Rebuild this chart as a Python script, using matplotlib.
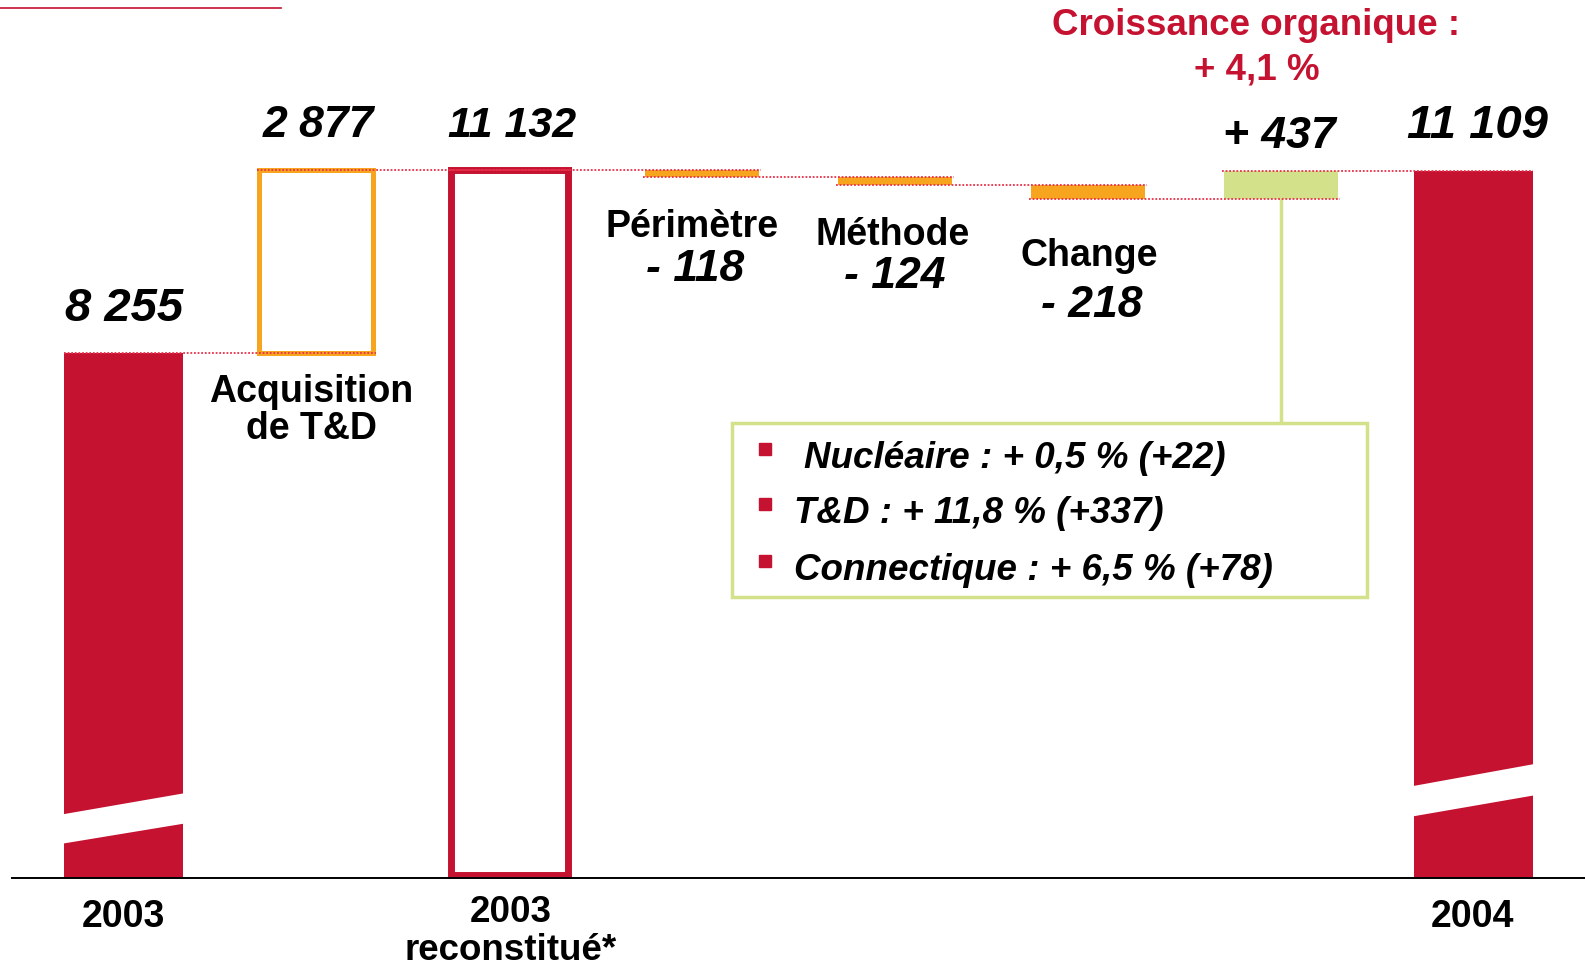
import matplotlib
matplotlib.use("Agg")
import matplotlib.pyplot as plt
from matplotlib.patches import Polygon, Rectangle

plt.rcParams['font.family'] = ['Liberation Sans', 'DejaVu Sans']

# data
categories = ["2003", "Acquisition\nde T&D", "2003\nreconstitué*", "Périmètre",
              "Méthode", "Change", "Croissance organique", "2004"]
values = [8255, 2877, 11132, -118, -124, -218, 437, 11109]
is_total = [True, False, True, False, False, False, False, True]
legend_lines = ["Nucléaire : + 0,5 % (+22)", "T&D : + 11,8 % (+337)",
                "Connectique : + 6,5 % (+78)"]
growth_title = ["Croissance organique :", "+ 4,1 %"]

RED = "#C41230"
ORANGE = "#F7A51E"
GREEN = "#D3E28A"
DOT = "#E8304A"

# layout grid (in units of the 1568x957 layout)
W, H = 1568, 957
BASE_PX = 869
STEP_PX = (1458 - 122) / 7
K = (BASE_PX - 168) / 11132.0
TXT_DY = 3.5


def X(px):
    return (px - 122) / STEP_PX


def Y(py):
    return (BASE_PX - py) / K


def TY(py):
    # text anchor, nudged down a little to match the reference baseline
    return Y(py + TXT_DY)


def fmt(v, sign=False):
    s = f"{abs(v):,}".replace(",", " ")
    if sign:
        return ("+ " if v > 0 else "- ") + s
    return s


fig = plt.figure(figsize=(15.85, 9.67), dpi=100)
ax = fig.add_axes([0, 0, 1, 1])
ax.set_xlim(X(0), X(W))
ax.set_ylim(Y(H), Y(0))
ax.axis("off")

# waterfall bottoms
bottoms = []
level = 0
for v, tot in zip(values, is_total):
    if tot:
        bottoms.append(0)
        level = v
    else:
        bottoms.append(level if v > 0 else level + v)
        level += v
heights = [abs(v) for v in values]

width = 0.615
# bars
ax.bar(0, heights[0], bottom=bottoms[0], width=width, color=RED, zorder=2)
ax.bar(7, heights[7], bottom=bottoms[7], width=width, color=RED, zorder=2)
ax.bar(1, heights[1], bottom=bottoms[1], width=0.59, facecolor="none",
       edgecolor=ORANGE, linewidth=3.6, zorder=2)
ax.bar(2, heights[2] - 45, bottom=bottoms[2] + 45, width=0.605, facecolor="none",
       edgecolor=RED, linewidth=5, zorder=2)
for i in (3, 4, 5):
    ax.bar(i, heights[i], bottom=bottoms[i], width=0.59, color=ORANGE, zorder=2)
ax.bar(6, heights[6], bottom=bottoms[6], width=0.59, color=GREEN, zorder=2)

# dotted connectors
level = values[0]
for i in range(1, len(values)):
    ax.plot([i - 1 - width / 2, i + width / 2], [level, level], color=DOT,
            lw=1.3, ls=(0, (1, 1)), zorder=3)
    level = values[i] if is_total[i] else level + values[i]

# axis break stripes
for i, (lt, lb, rt, rb) in [(0, (806, 835, 785, 815)), (7, (778, 808, 756, 787))]:
    xl, xr = i - width / 2 - 0.01, i + width / 2 + 0.01
    ax.add_patch(Polygon([(xl, Y(lt)), (xr, Y(rt)), (xr, Y(rb)), (xl, Y(lb))],
                         closed=True, facecolor="white", edgecolor="none", zorder=4))

# baseline
ax.axhline(0, xmin=12 / W, xmax=1568 / W, color="black", lw=1.4, zorder=5)
# decorative top-left line
ax.plot([X(0), X(278)], [Y(8), Y(8)], color=RED, lw=1.2)

bi = dict(fontweight="bold", style="italic", ha="center", va="center", color="black")
b = dict(fontweight="bold", ha="center", va="center", color="black")

# value labels
ax.text(X(123), TY(302), fmt(values[0]), fontsize=34, **bi)
ax.text(X(315), TY(121), fmt(values[1]), fontsize=32, **bi)
ax.text(X(507), TY(121), fmt(values[2]), fontsize=31, **bi)
ax.text(X(1462), TY(121), fmt(values[7]), fontsize=34, **bi)
ax.text(X(1266), TY(132), fmt(values[6], sign=True), fontsize=32, **bi)

# category labels for deltas
delta_pos = {3: (685, 221, 688, 263), 4: (883, 229, 885, 270), 5: (1078, 250, 1080, 299)}
for i, (cx, ty, vx, vy) in delta_pos.items():
    ax.text(X(cx), TY(ty), categories[i], fontsize=27, **b)
    ax.text(X(vx), TY(vy), fmt(values[i], sign=True), fontsize=32, **bi)

for line, py in zip(categories[1].split("\n"), [384, 421]):
    ax.text(X(308), TY(py), line, fontsize=27, **b)

# x labels
ax.text(X(122), TY(904), categories[0], fontsize=27, **b)
for line, py in zip(categories[2].split("\n"), [900, 937]):
    ax.text(X(505), TY(py), line, fontsize=26.5, **b)
ax.text(X(1457), TY(904), categories[7], fontsize=27, **b)

# organic growth title
for line, py in zip(growth_title, [22, 66]):
    ax.text(X(1243), TY(py), line, fontsize=26.5, fontweight="bold",
            ha="center", va="center", color=RED)

# legend box with connector
ax.plot([6, 6], [bottoms[6], Y(419)], color=GREEN, lw=2.5, zorder=1)
ax.add_patch(Rectangle((X(724), Y(591)), X(1352) - X(724), Y(419) - Y(591),
                       facecolor="white", edgecolor=GREEN, lw=2.5, zorder=3))
for line, py, tx in zip(legend_lines, [450, 505, 561], [795, 785, 785]):
    ax.plot(X(757), Y(py - 6), marker="s", ms=9, color=RED, zorder=4)
    ax.text(X(tx), TY(py), line, fontsize=26.5, fontweight="bold", style="italic",
            ha="left", va="center", zorder=4)

fig.savefig("out.png", dpi=100)
